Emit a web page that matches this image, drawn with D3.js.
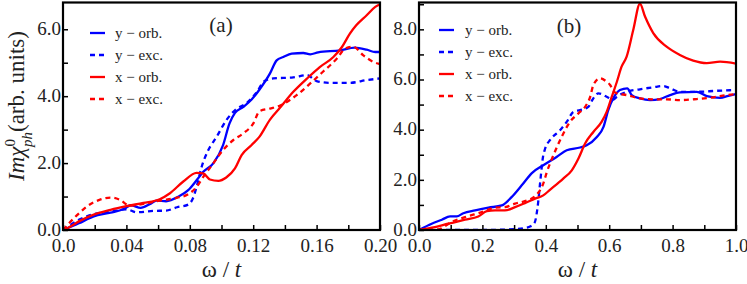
<!DOCTYPE html>
<html><head><meta charset="utf-8">
<script src="https://cdn.jsdelivr.net/npm/d3@7"></script>
<style>body{margin:0;background:#fff}</style>
</head><body><svg id="c" width="747" height="284"></svg>
<script>
const seriesNames = ["y \u2212 orb.", "y \u2212 exc.", "x \u2212 orb.", "x \u2212 exc."];
const panelLabels = ["(a)", "(b)"];
const aXTicks = [0.0, 0.04, 0.08, 0.12, 0.16, 0.20];
const aYTicks = [0.0, 2.0, 4.0, 6.0];
const bXTicks = [0.0, 0.2, 0.4, 0.6, 0.8, 1.0];
const bYTicks = [0.0, 2.0, 4.0, 6.0, 8.0];

// panel (a) : [omega/t, Im chi]
const aYOrb = [[0,0],[0.01,0.2],[0.019,0.40],[0.030,0.52],[0.038,0.62],[0.043,0.74],[0.049,0.66],[0.055,0.78],[0.059,0.88],[0.065,0.86],[0.073,1.0],[0.079,1.19],[0.0845,1.5],[0.0885,1.74],[0.0948,1.99],[0.101,2.54],[0.105,3.18],[0.1085,3.5],[0.1138,3.68],[0.119,3.9],[0.124,4.2],[0.1306,4.68],[0.1348,5.07],[0.139,5.17],[0.1443,5.27],[0.1516,5.29],[0.156,5.25],[0.161,5.31],[0.175,5.37],[0.184,5.45],[0.1916,5.39],[0.197,5.32],[0.2,5.32]];
const aYExc = [[0,0],[0.003,0.1],[0.011,0.33],[0.019,0.47],[0.03,0.55],[0.04,0.62],[0.0465,0.53],[0.057,0.57],[0.065,0.58],[0.072,0.68],[0.079,0.76],[0.082,0.95],[0.0843,1.29],[0.0875,1.89],[0.0917,2.39],[0.097,2.79],[0.103,3.28],[0.1085,3.58],[0.116,3.8],[0.122,4.1],[0.127,4.45],[0.1327,4.53],[0.1453,4.56],[0.154,4.63],[0.160,4.45],[0.168,4.40],[0.181,4.40],[0.1916,4.48],[0.2,4.53]];
const aXOrb = [[0,0],[0.003,0.06],[0.011,0.28],[0.019,0.45],[0.030,0.60],[0.040,0.71],[0.0507,0.81],[0.061,0.92],[0.0675,1.1],[0.0759,1.45],[0.0843,1.71],[0.0885,1.69],[0.0927,1.51],[0.098,1.47],[0.103,1.57],[0.1085,1.84],[0.1127,2.24],[0.119,2.54],[0.124,2.79],[0.1306,3.3],[0.137,3.66],[0.1453,4.13],[0.154,4.53],[0.162,4.87],[0.1706,5.17],[0.176,5.47],[0.181,5.87],[0.185,6.12],[0.1916,6.42],[0.197,6.67],[0.2,6.75]];
const aXExc = [[0,0],[0.003,0.16],[0.009,0.45],[0.015,0.7],[0.023,0.9],[0.030,0.97],[0.036,0.9],[0.042,0.73],[0.0507,0.78],[0.061,0.88],[0.0717,0.96],[0.079,1.07],[0.0843,1.29],[0.0885,1.59],[0.0948,1.99],[0.101,2.39],[0.1075,2.69],[0.1138,2.89],[0.120,3.18],[0.124,3.55],[0.1306,3.63],[0.137,3.72],[0.1474,4.03],[0.156,4.38],[0.164,4.73],[0.1727,5.12],[0.178,5.42],[0.183,5.48],[0.1895,5.22],[0.196,5.02],[0.2,4.96]];

// panel (b)
const bYOrb = [[0,0],[0.04,0.25],[0.072,0.41],[0.098,0.54],[0.119,0.54],[0.14,0.67],[0.177,0.78],[0.219,0.89],[0.261,0.98],[0.292,1.31],[0.324,1.78],[0.356,2.27],[0.392,2.58],[0.434,2.91],[0.466,3.18],[0.508,3.29],[0.529,3.38],[0.561,3.71],[0.582,4.11],[0.597,4.78],[0.613,5.25],[0.634,5.58],[0.657,5.65],[0.671,5.38],[0.697,5.25],[0.729,5.18],[0.760,5.22],[0.792,5.38],[0.823,5.49],[0.876,5.51],[0.908,5.34],[0.950,5.27],[0.976,5.35],[1.0,5.42]];
const bYExc = [[0,0],[0.1,0],[0.2,0],[0.3,0.03],[0.33,0.07],[0.352,0.15],[0.365,0.3],[0.374,0.9],[0.383,2.0],[0.391,2.9],[0.398,3.25],[0.413,3.58],[0.445,3.98],[0.466,4.31],[0.487,4.71],[0.508,4.78],[0.534,4.91],[0.55,5.25],[0.566,5.45],[0.592,5.31],[0.613,5.2],[0.624,5.31],[0.655,5.51],[0.697,5.61],[0.739,5.69],[0.771,5.74],[0.792,5.65],[0.823,5.51],[0.876,5.51],[0.939,5.55],[1.0,5.58]];
const bXOrb = [[0,0],[0.05,0.11],[0.092,0.25],[0.145,0.41],[0.187,0.54],[0.214,0.75],[0.24,0.78],[0.271,0.78],[0.303,0.91],[0.334,1.07],[0.366,1.25],[0.392,1.38],[0.413,1.6],[0.455,2.05],[0.482,2.38],[0.503,2.85],[0.524,3.45],[0.55,3.91],[0.576,4.31],[0.592,4.71],[0.608,5.31],[0.624,5.9],[0.639,6.51],[0.655,6.91],[0.676,7.98],[0.697,9.02],[0.713,8.51],[0.739,7.85],[0.781,7.31],[0.823,6.98],[0.865,6.75],[0.908,6.65],[0.95,6.71],[1.0,6.63]];
const bXExc = [[0,0],[0.06,0.02],[0.082,0.15],[0.1,0.3],[0.145,0.51],[0.198,0.71],[0.24,0.89],[0.271,0.91],[0.303,1.05],[0.334,1.15],[0.366,1.35],[0.38,1.55],[0.392,1.85],[0.403,2.3],[0.424,2.98],[0.45,3.71],[0.476,4.31],[0.503,4.65],[0.524,4.91],[0.54,5.31],[0.55,5.78],[0.571,6.05],[0.592,5.91],[0.603,5.78],[0.613,5.55],[0.624,5.45],[0.655,5.38],[0.697,5.25],[0.739,5.21],[0.781,5.21],[0.823,5.18],[0.876,5.22],[0.929,5.29],[0.971,5.38],[1.0,5.42]];

const colors = ["#0000ff","#0000ff","#ff0000","#ff0000"];
const dashed = [false,true,false,true];
const FONT = "'Liberation Serif'";

const svg = d3.select("#c");
const panels = [
  {x0:63,x1:380,y0:2.5,y1:230,xd:[0,0.2],yd:[0,6.8],xt:aXTicks,yt:aYTicks,xminor:0.02,yminor:1,xfmt:d=>d===0?"0.0":d3.format(".2f")(d),
   data:[aYOrb,aYExc,aXOrb,aXExc],leg:{x:90,tx:115,y:33,dy:22},lab:{x:221,y:32},id:"a"},
  {x0:419,x1:736,y0:2.5,y1:230,xd:[0,1],yd:[0,9.07],xt:bXTicks,yt:bYTicks,xminor:0.1,yminor:1,xfmt:d3.format(".1f"),
   data:[bYOrb,bYExc,bXOrb,bXExc],leg:{x:439,tx:465,y:30,dy:22},lab:{x:569,y:33},id:"b"}
];

panels.forEach((p,pi)=>{
  const x = d3.scaleLinear().domain(p.xd).range([p.x0,p.x1]);
  const y = d3.scaleLinear().domain(p.yd).range([p.y1,p.y0]);
  const g = svg.append("g");
  g.append("clipPath").attr("id","clip"+p.id).append("rect")
    .attr("x",p.x0).attr("y",p.y0).attr("width",p.x1-p.x0).attr("height",p.y1-p.y0);
  const line = d3.line().x(d=>x(d[0])).y(d=>y(d[1])).curve(d3.curveMonotoneX);
  p.data.forEach((s,i)=>{
    g.append("path").datum(s).attr("clip-path","url(#clip"+p.id+")")
      .attr("d",line).attr("fill","none").attr("stroke",colors[i]).attr("stroke-width",2.3)
      .attr("stroke-dasharray",dashed[i]?"5,4":null);
  });
  const xMinor = d3.range(p.xd[0], p.xd[1]+1e-9, p.xminor);
  const yMinor = d3.range(p.yd[0], p.yd[1]+1e-9, p.yminor);
  const xa = g.append("g").attr("transform",`translate(0,${p.y1})`)
    .call(d3.axisBottom(x).tickValues(xMinor).tickSize(-5).tickFormat(""));
  const xb = g.append("g").attr("transform",`translate(0,${p.y1})`)
    .call(d3.axisBottom(x).tickValues(p.xt).tickSize(0).tickPadding(8).tickFormat(p.xfmt));
  const ya = g.append("g").attr("transform",`translate(${p.x0},0)`)
    .call(d3.axisLeft(y).tickValues(yMinor).tickSize(-5).tickFormat(""));
  const yb = g.append("g").attr("transform",`translate(${p.x0},0)`)
    .call(d3.axisLeft(y).tickValues(p.yt).tickSize(0).tickPadding(2).tickFormat(d3.format(".1f")));
  [xa,xb,ya,yb].forEach(a=>{a.attr("font-family",null).attr("font-size",null);a.select(".domain").remove();a.selectAll("line").attr("stroke","#000").attr("stroke-width",1.5);
    a.selectAll("text").style("font-family",FONT).style("font-size","19px").attr("fill","#222");});
  xb.selectAll("text").attr("dy","0.75em");
  yb.selectAll("text").attr("dy","0.28em");
  g.append("rect").attr("x",p.x0).attr("y",p.y0).attr("width",p.x1-p.x0).attr("height",p.y1-p.y0)
    .attr("fill","none").attr("stroke","#000").attr("stroke-width",2.2);
  seriesNames.forEach((n,i)=>{
    const yy = p.leg.y + i*p.leg.dy;
    g.append("line").attr("x1",p.leg.x).attr("x2",p.leg.x+15).attr("y1",yy).attr("y2",yy)
      .attr("stroke",colors[i]).attr("stroke-width",2.3).attr("stroke-dasharray",dashed[i]?"5,4":null);
    g.append("text").attr("x",p.leg.tx).attr("y",yy+5).style("font-family",FONT).style("font-size","15px").attr("fill","#222").text(n);
  });
  g.append("text").attr("x",p.lab.x).attr("y",p.lab.y).attr("text-anchor","middle").style("font-family",FONT).style("font-size","21px").attr("fill","#222").text(panelLabels[pi]);
  const xt = g.append("text").attr("x",(p.x0+p.x1)/2).attr("y",277).attr("text-anchor","middle").style("font-family",FONT).style("font-size","23px").attr("fill","#222");
  xt.append("tspan").text("\u03c9 / ");
  xt.append("tspan").attr("font-style","italic").text("t");
});

const yt = svg.append("text").attr("transform","translate(24,106) rotate(-90)").attr("text-anchor","middle").style("font-family",FONT).style("font-size","23px").attr("fill","#222");
yt.append("tspan").attr("font-style","italic").text("Im\u03c7");
yt.append("tspan").style("font-size","15px").attr("dy","-9").text("0");
yt.append("tspan").style("font-size","15px").attr("font-style","italic").attr("dx","-8").attr("dy","17").text("ph");
yt.append("tspan").attr("dy","-8").text("(arb. units)");
</script></body></html>
